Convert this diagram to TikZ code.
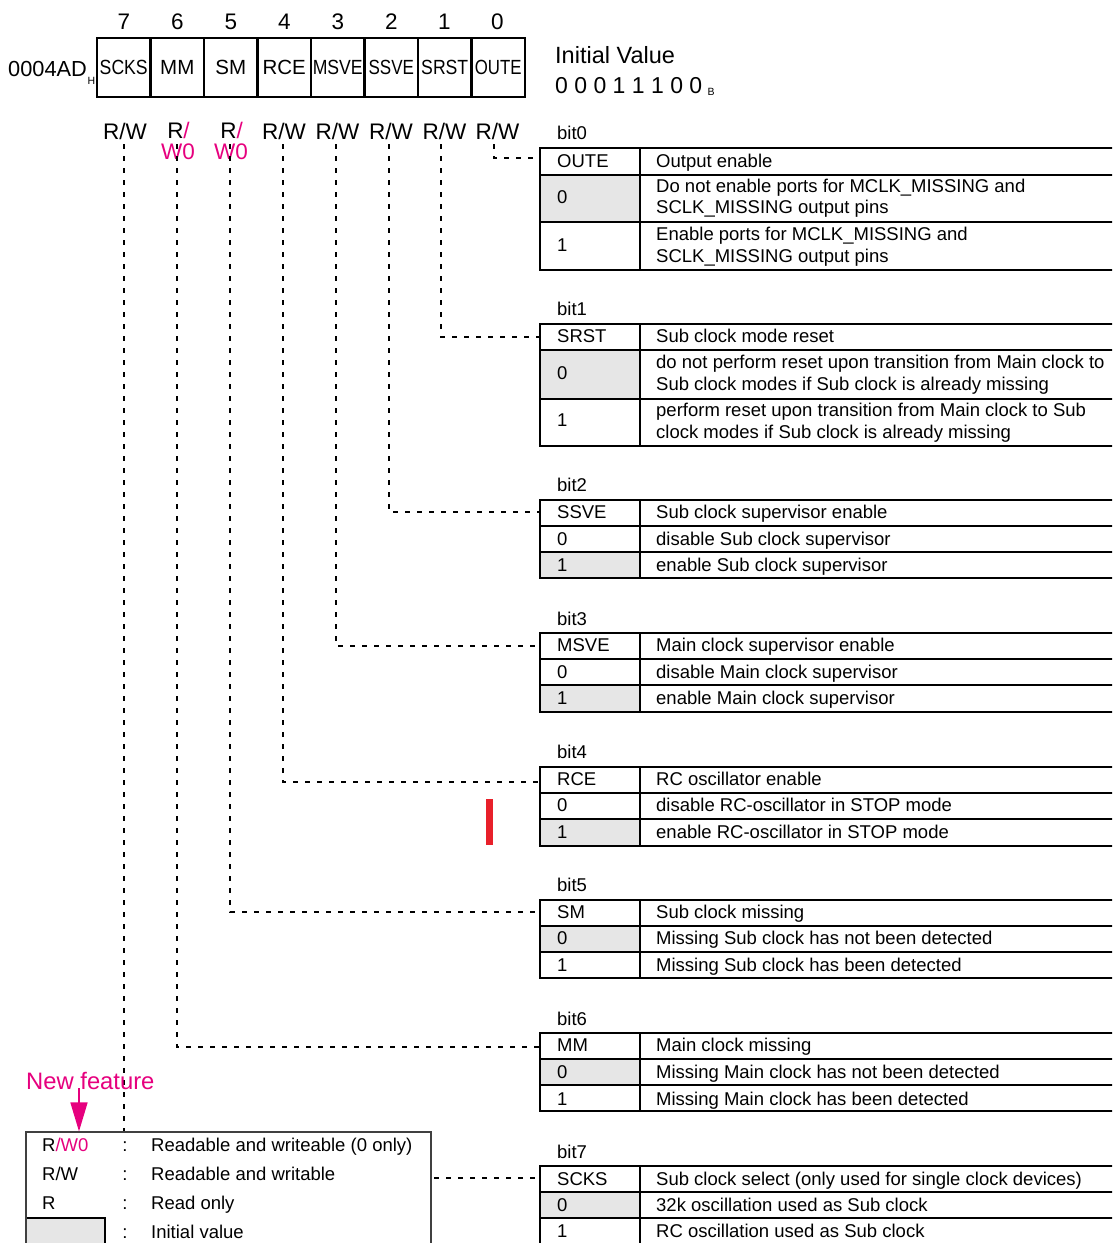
\documentclass[tikz,border=0pt]{standalone}
\usepackage{graphicx}
\usepackage{fontspec}
\setmainfont{Liberation Sans}
\usetikzlibrary{arrows.meta}
\definecolor{mag}{RGB}{230,0,126}
\definecolor{cellgrey}{RGB}{230,230,230}
\definecolor{barred}{RGB}{232,32,42}
\newcommand\fsz[1]{\fontsize{#1}{#1}\selectfont}
\newcommand\regtab[6]{%
  \fill[cellgrey] (540,#5) rectangle (640,#6);
  \draw[tabline] (1125,#1) -- (540,#1) -- (540,#4) -- (1125,#4);
  \draw[tabline] (540,#2) -- (1125,#2) (540,#3) -- (1125,#3) (640,#1) -- (640,#4);
}
\begin{document}
\begin{tikzpicture}[x=1pt,y=-1pt,
  tt/.style={anchor=west,inner sep=0pt,font=\fsz{18.5},text height=13.2pt,text depth=0pt},
  big/.style={inner sep=0pt,font=\fsz{22.5},text height=16pt,text depth=0pt},
  sub/.style={inner sep=0pt,font=\fsz{10.5},text height=7.5pt,text depth=0pt},
  regcell/.style={draw,line width=2.5pt,minimum width=53.5pt,minimum height=59pt,inner sep=0pt,font=\fsz{20.5},text height=14.7pt,text depth=0pt},
  tabline/.style={line width=2.3pt},
  dashconn/.style={line width=1.2pt,dash pattern=on 5pt off 7pt},
  legbox/.style={draw=black!75,line width=1.2pt,fill=white,minimum width=405pt,minimum height=140pt,inner sep=0pt},
]
\useasboundingbox (0,0) rectangle (1112,1243);
\clip (0,0) rectangle (1112,1243);

% ---------------- register ----------------
\node[big,anchor=west,font=\fsz{21.8}] (addr) at (8,68) {0004AD};
\node[sub] (addrH) at (91.5,81) {H};
\node[regcell] (c7) at (123.75,67.5) {\scalebox{0.86}[1]{SCKS}};
\node[regcell] (c6) at (177.25,67.5) {MM};
\node[regcell] (c5) at (230.75,67.5) {SM};
\node[regcell] (c4) at (284.25,67.5) {RCE};
\node[regcell] (c3) at (337.75,67.5) {\scalebox{0.86}[1]{MSVE}};
\node[regcell] (c2) at (391.25,67.5) {\scalebox{0.83}[1]{SSVE}};
\node[regcell] (c1) at (444.75,67.5) {\scalebox{0.86}[1]{SRST}};
\node[regcell] (c0) at (498.25,67.5) {\scalebox{0.82}[1]{OUTE}};

\node[big] (n7) at (124,21) {7};
\node[big] (n6) at (177.5,21) {6};
\node[big] (n5) at (231,21) {5};
\node[big] (n4) at (284.5,21) {4};
\node[big] (n3) at (338,21) {3};
\node[big] (n2) at (391.5,21) {2};
\node[big] (n1) at (444.5,21) {1};
\node[big] (n0) at (497.5,21) {0};

\node[big] (rw7) at (125,131) {R/W};
\node[big] (rw6) at (178.5,130) {R\textcolor{mag}{/}};
\node[big,text=mag] (w6) at (178,151) {W0};
\node[big] (rw5) at (231.5,130) {R\textcolor{mag}{/}};
\node[big,text=mag] (w5) at (231,151) {W0};
\node[big] (rw4) at (284,131) {R/W};
\node[big] (rw3) at (337.5,131) {R/W};
\node[big] (rw2) at (391,131) {R/W};
\node[big] (rw1) at (444.5,131) {R/W};
\node[big] (rw0) at (497.5,131) {R/W};

\node[big,anchor=west,font=\fsz{23.5}] (ivt) at (555,55) {Initial Value};
\node[big,anchor=west,font=\fsz{23}] (ivv) at (555,85) {0 0 0 1 1 1 0 0};
\node[sub] (ivb) at (711,92) {B};

% ---------------- bit0 ----------------
\node[tt] (b0) at (557,133) {bit0};
\regtab{148}{175}{222}{270}{175}{222}
\node[tt] (hd0) at (557,161) {OUTE};
\node[tt] (hx0) at (656,161) {Output enable};
\node[tt] (v00) at (557,197) {0};
\node[tt] (d00a) at (656,186) {Do not enable ports for MCLK\_MISSING and};
\node[tt] (d00b) at (656,207) {SCLK\_MISSING output pins};
\node[tt] (v01) at (557,245) {1};
\node[tt] (d01a) at (656,234) {Enable ports for MCLK\_MISSING and};
\node[tt] (d01b) at (656,256) {SCLK\_MISSING output pins};

% ---------------- bit1 ----------------
\node[tt] (b1) at (557,309) {bit1};
\regtab{324}{350}{399}{446}{350}{399}
\node[tt] (hd1) at (557,336) {SRST};
\node[tt] (hx1) at (656,336) {Sub clock mode reset};
\node[tt] (v10) at (557,373) {0};
\node[tt] (d10a) at (656,362) {do not perform reset upon transition from Main clock to};
\node[tt] (d10b) at (656,384) {Sub clock modes if Sub clock is already missing};
\node[tt] (v11) at (557,420) {1};
\node[tt] (d11a) at (656,410) {perform reset upon transition from Main clock to Sub};
\node[tt] (d11b) at (656,432) {clock modes if Sub clock is already missing};

% ---------------- bit2 ----------------
\node[tt] (b2) at (557,485) {bit2};
\regtab{500}{526}{552}{578}{552}{578}
\node[tt] (hd2) at (557,512) {SSVE};
\node[tt] (hx2) at (656,512) {Sub clock supervisor enable};
\node[tt] (v20) at (557,539) {0};
\node[tt] (d20) at (656,539) {disable Sub clock supervisor};
\node[tt] (v21) at (557,565) {1};
\node[tt] (d21) at (656,565) {enable Sub clock supervisor};

% ---------------- bit3 ----------------
\node[tt] (b3) at (557,619) {bit3};
\regtab{633}{659}{685}{712}{685}{712}
\node[tt] (hd3) at (557,645) {MSVE};
\node[tt] (hx3) at (656,645) {Main clock supervisor enable};
\node[tt] (v30) at (557,672) {0};
\node[tt] (d30) at (656,672) {disable Main clock supervisor};
\node[tt] (v31) at (557,698) {1};
\node[tt] (d31) at (656,698) {enable Main clock supervisor};

% ---------------- bit4 ----------------
\node[tt] (b4) at (557,752) {bit4};
\regtab{767}{793}{819}{846}{819}{846}
\node[tt] (hd4) at (557,779) {RCE};
\node[tt] (hx4) at (656,779) {RC oscillator enable};
\node[tt] (v40) at (557,805) {0};
\node[tt] (d40) at (656,805) {disable RC-oscillator in STOP mode};
\node[tt] (v41) at (557,832) {1};
\node[tt] (d41) at (656,832) {enable RC-oscillator in STOP mode};

% ---------------- bit5 ----------------
\node[tt] (b5) at (557,885) {bit5};
\regtab{900}{926}{952}{978}{926}{952}
\node[tt] (hd5) at (557,912) {SM};
\node[tt] (hx5) at (656,912) {Sub clock missing};
\node[tt] (v50) at (557,938) {0};
\node[tt] (d50) at (656,938) {Missing Sub clock has not been detected};
\node[tt] (v51) at (557,965) {1};
\node[tt] (d51) at (656,965) {Missing Sub clock has been detected};

% ---------------- bit6 ----------------
\node[tt] (b6) at (557,1019) {bit6};
\regtab{1033}{1059}{1085}{1111}{1059}{1085}
\node[tt] (hd6) at (557,1045) {MM};
\node[tt] (hx6) at (656,1045) {Main clock missing};
\node[tt] (v60) at (557,1072) {0};
\node[tt] (d60) at (656,1072) {Missing Main clock has not been detected};
\node[tt] (v61) at (557,1099) {1};
\node[tt] (d61) at (656,1099) {Missing Main clock has been detected};

% ---------------- bit7 ----------------
\node[tt] (b7) at (557,1152) {bit7};
\regtab{1166}{1192}{1218}{1245}{1192}{1218}
\node[tt] (hd7) at (557,1179) {SCKS};
\node[tt] (hx7) at (656,1179) {Sub clock select (only used for single clock devices)};
\node[tt] (v70) at (557,1205) {0};
\node[tt] (d70) at (656,1205) {32k oscillation used as Sub clock};
\node[tt] (v71) at (557,1231) {1};
\node[tt] (d71) at (656,1231) {RC oscillation used as Sub clock};

% ---------------- connectors ----------------
\coordinate (s7) at (124,144); \coordinate (e7) at (540,1178);
\coordinate (s6) at (177,144); \coordinate (e6) at (540,1047);
\coordinate (s5) at (230,144); \coordinate (e5) at (540,912);
\coordinate (s4) at (283,144); \coordinate (e4) at (540,782);
\coordinate (s3) at (336,144); \coordinate (e3) at (540,646);
\coordinate (s2) at (389,144); \coordinate (e2) at (540,512);
\coordinate (s1) at (441,144); \coordinate (e1) at (540,337);
\coordinate (s0) at (494,144); \coordinate (e0) at (540,158);
\draw[dashconn] (s0) |- (e0);
\draw[dashconn] (s1) |- (e1);
\draw[dashconn] (s2) |- (e2);
\draw[dashconn] (s3) |- (e3);
\draw[dashconn] (s4) |- (e4);
\draw[dashconn] (s5) |- (e5);
\draw[dashconn] (s6) |- (e6);
\draw[dashconn] (s7) |- (e7);

% red marker
\fill[barred] (486,799) rectangle (493,845);

% ---------------- legend ----------------
\node[legbox] (legend) at (228.5,1202) {};
\fill[cellgrey] (26.6,1218) rectangle (105,1250);
\draw[line width=2.3pt] (26.6,1218) -- (105,1218) -- (105,1250);
\node[tt] (l1a) at (42,1145) {R\textcolor{mag}{/W0}};
\node[tt,anchor=center] (l1b) at (125,1145) {:};
\node[tt] (l1c) at (151,1145) {Readable and writeable (0 only)};
\node[tt] (l2a) at (42,1174) {R/W};
\node[tt,anchor=center] (l2b) at (125,1174) {:};
\node[tt] (l2c) at (151,1174) {Readable and writable};
\node[tt] (l3a) at (42,1203) {R};
\node[tt,anchor=center] (l3b) at (125,1203) {:};
\node[tt] (l3c) at (151,1203) {Read only};
\node[tt,anchor=center] (l4b) at (125,1232) {:};
\node[tt] (l4c) at (151,1232) {Initial value};

\node[big,anchor=west,text=mag,font=\fsz{23.8},text height=17pt] (nf) at (26,1081) {New feature};
\coordinate (nfa) at (79,1088);
\draw[mag,line width=1.6pt,-{Triangle[length=29pt,width=17pt]}] (nfa) -- (nfa |- legend.north);
\end{tikzpicture}
\end{document}
